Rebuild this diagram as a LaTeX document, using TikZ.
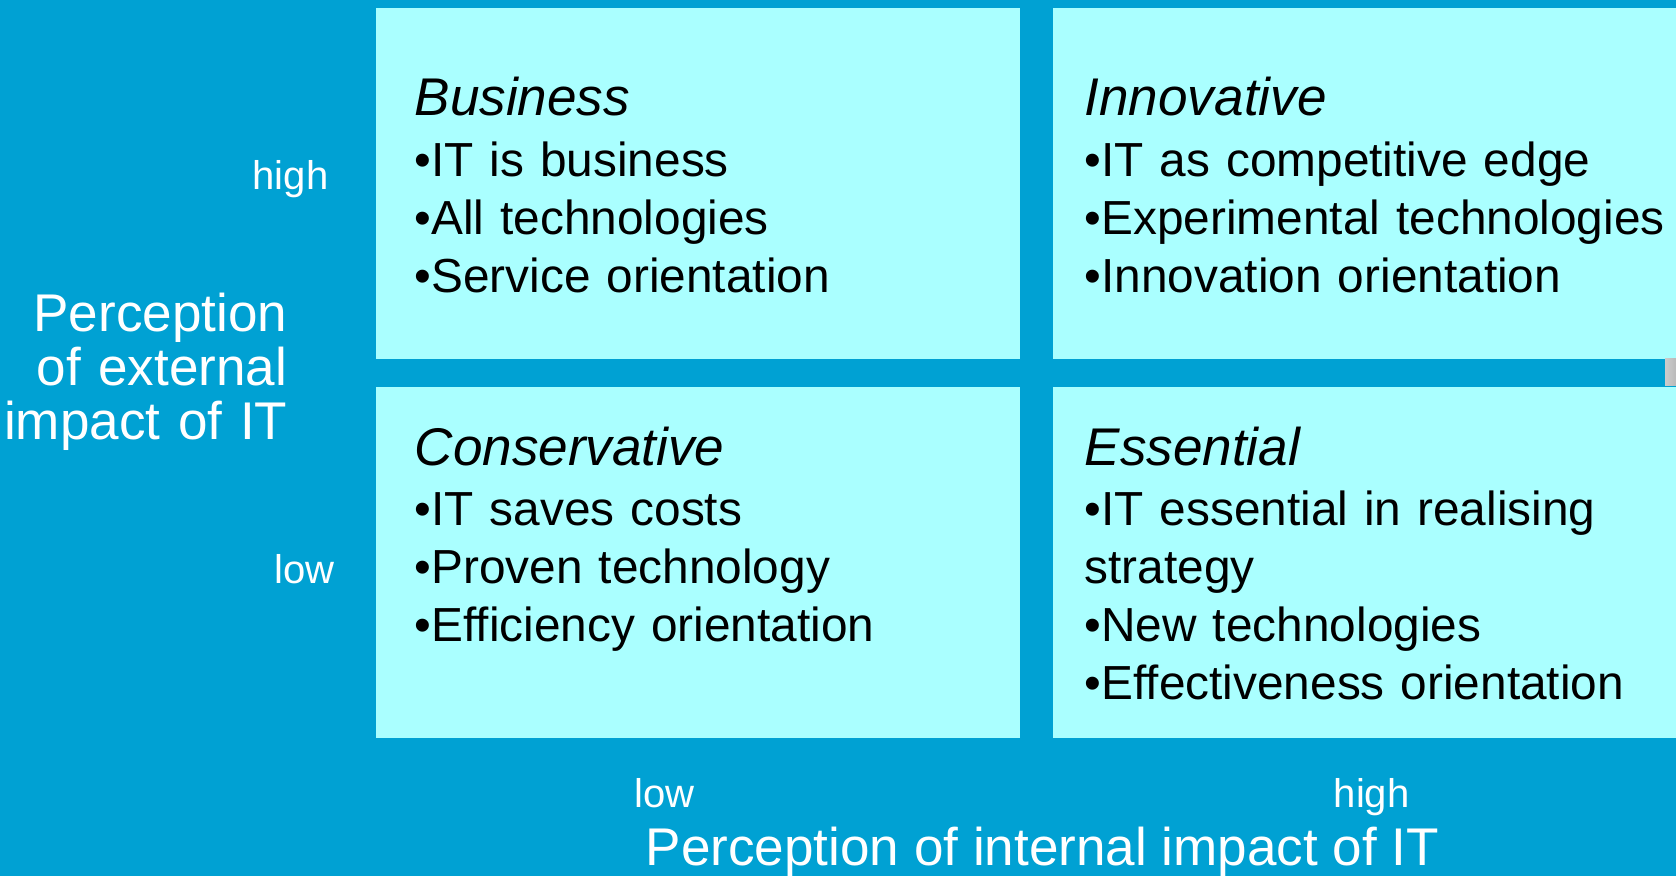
\documentclass[tikz,border=0pt]{standalone}
\usepackage{fontspec}
\setmainfont{Liberation Sans}
\usetikzlibrary{positioning}

\definecolor{matrixblue}{RGB}{0,161,211}
\definecolor{quadcyan}{RGB}{170,255,255}

\newcommand{\quadtitle}{\fontsize{15.1}{16.5}\selectfont\itshape}
\newcommand{\quaditem}{\fontsize{13.6}{16.5}\selectfont}
\newcommand{\axisname}{\fontsize{15.1}{15.4}\selectfont}
\newcommand{\axistick}{\fontsize{11.4}{13}\selectfont}

\begin{document}
\begin{tikzpicture}[
  x=0.1mm, y=-0.1mm,
  quad/.style = {fill=quadcyan, inner sep=0pt, minimum height=35.1mm},
  items/.style = {anchor=base west, inner sep=0pt, text width=70mm, align=left, font=\quaditem},
  ticklbl/.style = {anchor=base west, inner sep=0pt, text=white, font=\axistick},
  node distance=2.7mm and 3.2mm
]

  \useasboundingbox (0,0) rectangle (1676,876);
  \fill[matrixblue] (0,0) rectangle (1676,876);

  % Quadrants
  \node[quad, minimum width=64.4mm, anchor=north west] (business) at (375,7) {};
  \node[quad, minimum width=62.5mm, right=of business] (innovative) {};
  \node[quad, minimum width=64.4mm, below=of business] (conservative) {};
  \node[quad, minimum width=62.5mm, below=of innovative] (essential) {};
  \shade[left color=gray!40, right color=gray!55] (1665,358) rectangle (1676,385);

  % Quadrant texts
  \node[items] (business_txt) at (414,115)
    {{\quadtitle Business}\\[0.9pt]•IT is business\\•All technologies\\•Service orientation};
  \node[items] (innovative_txt) at (1084,115)
    {{\quadtitle Innovative}\\[0.9pt]•IT as competitive edge\\•Experimental technologies\\•Innovation orientation};
  \node[items] (conservative_txt) at (414,465)
    {{\quadtitle Conservative}\\[0.6pt]•IT saves costs\\•Proven technology\\•Efficiency orientation};
  \node[items] (essential_txt) at (1084,465)
    {{\quadtitle Essential}\\[0.6pt]•IT essential in realising\\strategy\\•New technologies\\•Effectiveness orientation};

  % Vertical axis
  \node[anchor=base east, inner sep=0pt, text width=34mm, align=right, text=white, font=\axisname]
    (ext_axis) at (288,331) {Perception\\of external\\impact of IT};
  \node[ticklbl] (ext_high) at (252,189) {high};
  \node[ticklbl] (ext_low) at (274,583) {low};

  % Horizontal axis
  \node[ticklbl] (int_low) at (634,807) {low};
  \node[ticklbl] (int_high) at (1333,807) {high};
  \node[anchor=base west, inner sep=0pt, text=white, font=\axisname]
    (int_axis) at (645,865) {Perception of internal impact of IT};

\end{tikzpicture}
\end{document}
